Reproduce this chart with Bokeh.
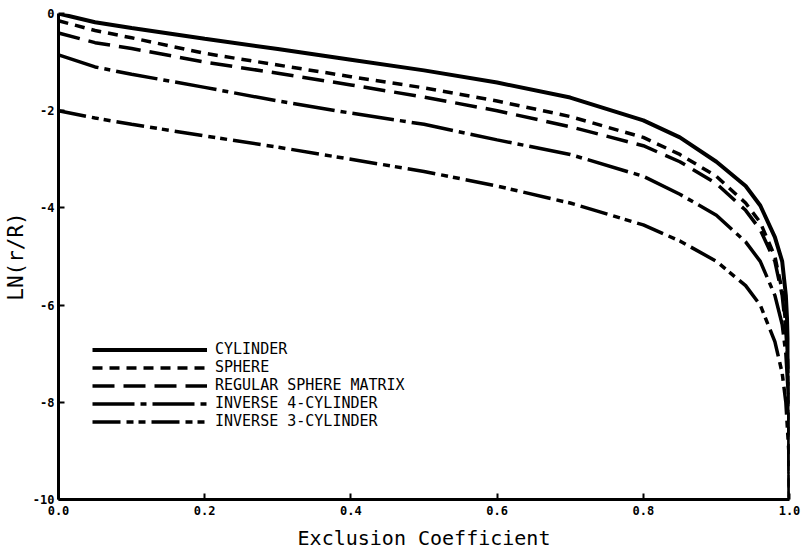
from bokeh.plotting import figure
from bokeh.models import Legend, LegendItem, FixedTicker, Range1d, PrintfTickFormatter
from bokeh.embed import file_html
from bokeh.resources import INLINE

# Exclusion coefficient sample points
excl = [0.0, 0.05, 0.1, 0.2, 0.3, 0.4, 0.5, 0.6, 0.7, 0.8, 0.85, 0.9, 0.94, 0.96, 0.98, 0.99, 0.995, 0.999, 1.0]

cylinder = [0.0, -0.18, -0.30, -0.52, -0.73, -0.95, -1.17, -1.42, -1.73, -2.2, -2.55, -3.05, -3.55, -3.95, -4.6, -5.1, -5.8, -7.0, -10.0]
sphere = [-0.15, -0.35, -0.5, -0.82, -1.06, -1.3, -1.53, -1.8, -2.12, -2.55, -2.9, -3.35, -3.9, -4.3, -5.0, -5.7, -6.4, -7.5, -10.0]
reg_sphere = [-0.4, -0.6, -0.72, -1.0, -1.23, -1.47, -1.72, -2.0, -2.33, -2.72, -3.05, -3.5, -4.05, -4.45, -5.1, -5.8, -6.5, -7.6, -10.0]
inv4_cyl = [-0.85, -1.1, -1.25, -1.52, -1.8, -2.05, -2.28, -2.6, -2.9, -3.35, -3.72, -4.15, -4.7, -5.1, -5.8, -6.4, -7.0, -8.0, -10.0]
inv3_cyl = [-2.0, -2.15, -2.28, -2.52, -2.75, -3.0, -3.25, -3.55, -3.9, -4.35, -4.68, -5.1, -5.6, -6.0, -6.75, -7.4, -8.0, -9.0, -10.0]

labels = ["CYLINDER", "SPHERE", "REGULAR SPHERE MATRIX", "INVERSE 4-CYLINDER", "INVERSE 3-CYLINDER"]
x_ticks = [0.0, 0.2, 0.4, 0.6, 0.8, 1.0]
y_ticks = [-10, -8, -6, -4, -2, 0]

p = figure(width=804, height=555, x_range=Range1d(0, 1), y_range=Range1d(-10, 0),
           output_backend="svg", toolbar_location=None,
           min_border_left=56, min_border_right=15, min_border_top=13, min_border_bottom=56)
p.outline_line_color = None
p.grid.visible = False
p.background_fill_color = "white"

series = [cylinder, sphere, reg_sphere, inv4_cyl, inv3_cyl]
dashes = ["solid", "10 7", "22 9", "42 6 6 6", "28 6 7 5 7 6"]
widths = [4, 3.5, 3.5, 3.5, 3.5]
renderers = []
for ys, d, w in zip(series, dashes, widths):
    r = p.line(excl, ys, line_color="black", line_width=w, line_dash=d)
    renderers.append(r)

for ax in (p.xaxis[0], p.yaxis[0]):
    ax.axis_line_width = 3
    ax.axis_line_color = "black"
    ax.major_tick_in = 6
    ax.major_tick_out = 0
    ax.major_tick_line_width = 2
    ax.minor_tick_line_color = None
    ax.major_label_text_font = "DejaVu Sans Mono"
    ax.major_label_text_font_style = "bold"
    ax.major_label_text_font_size = "12px"
    ax.major_label_text_color = "black"
    ax.axis_label_text_font = "DejaVu Sans Mono"
    ax.axis_label_text_font_style = "normal"
    ax.axis_label_text_color = "black"

p.xaxis.axis_label_text_font_size = "20px"
p.yaxis.axis_label_text_font_size = "21px"
p.xaxis.ticker = FixedTicker(ticks=x_ticks)
p.xaxis.formatter = PrintfTickFormatter(format="%.1f")
p.yaxis.ticker = FixedTicker(ticks=y_ticks)
p.yaxis.formatter = PrintfTickFormatter(format="%d")
p.xaxis.axis_label = "Exclusion Coefficient"
p.yaxis.axis_label = "LN(r/R)"
p.xaxis.major_label_standoff = 6
p.xaxis.axis_label_standoff = 8
p.yaxis.major_label_standoff = 4
p.yaxis.axis_label_standoff = 2

items = [LegendItem(label=l, renderers=[r]) for l, r in zip(labels, renderers)]
legend = Legend(items=items, location=(34, 69), glyph_width=115, glyph_height=15,
                label_height=15, spacing=0, label_standoff=8, padding=0, margin=0,
                border_line_color=None, background_fill_alpha=0,
                label_text_font="DejaVu Sans Mono", label_text_font_size="15px",
                label_text_color="black")
p.add_layout(legend)

open("out.html", "w").write(file_html(p, INLINE))
